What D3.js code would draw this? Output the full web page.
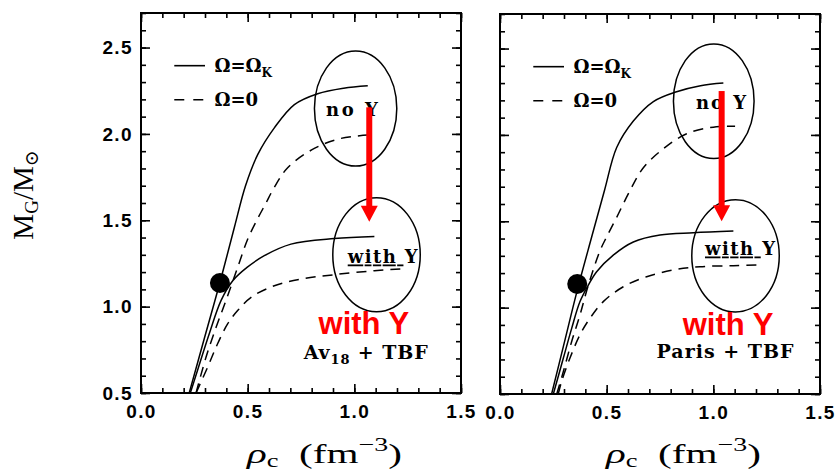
<!DOCTYPE html>
<html>
<head>
<meta charset="utf-8">
<script src="https://cdn.jsdelivr.net/npm/d3@7"></script>
<style>
  body { margin: 0; background: #fff; }
  svg { display: block; }
</style>
</head>
<body>
<svg id="chart" width="836" height="473"></svg>
<script>
// ---------- data ----------
const xDomain = [0, 1.5];
const yDomain = [0.5, 2.7];
const xTickValues = [0.0, 0.5, 1.0, 1.5];
const yTickValues = [0.5, 1.0, 1.5, 2.0, 2.5];
const legendLabels = ["\u03A9=\u03A9", "\u03A9=0"];

// Av18 + TBF : [rho_c (fm^-3), M_G / M_sun]
const av18KeplerNoY = [[0.226,0.5],[0.30,0.83],[0.37,1.14],[0.4375,1.458],[0.49,1.70],[0.547,1.88],[0.625,2.035],[0.719,2.17],[0.828,2.233],[0.95,2.265],[1.063,2.279]];
const av18StaticNoY = [[0.258,0.5],[0.305,0.708],[0.352,0.88],[0.398,1.035],[0.453,1.227],[0.50,1.39],[0.547,1.51],[0.586,1.60],[0.62,1.68],[0.6875,1.804],[0.8125,1.916],[0.9375,1.974],[1.063,1.993]];
const av18KeplerWithY = [[0.231,0.5],[0.25,0.573],[0.32,0.843],[0.375,1.035],[0.43,1.15],[0.497,1.227],[0.578,1.295],[0.703,1.362],[0.906,1.394],[1.094,1.406]];
const av18StaticWithY = [[0.258,0.5],[0.3125,0.65],[0.359,0.785],[0.406,0.90],[0.453,0.977],[0.516,1.054],[0.625,1.121],[0.75,1.16],[0.906,1.185],[1.094,1.208],[1.219,1.218]];
const av18Marker = [0.37, 1.137];

// Paris + TBF
const parisKeplerNoY = [[0.242,0.5],[0.30,0.79],[0.362,1.10],[0.43,1.41],[0.49,1.68],[0.547,1.927],[0.625,2.08],[0.719,2.193],[0.828,2.25],[0.94,2.285],[1.047,2.30]];
const parisStaticNoY = [[0.266,0.5],[0.297,0.63],[0.336,0.804],[0.375,0.958],[0.414,1.13],[0.469,1.33],[0.50,1.41],[0.547,1.523],[0.609,1.677],[0.672,1.81],[0.766,1.92],[0.875,2.007],[1.0,2.045],[1.102,2.05]];
const parisKeplerWithY = [[0.25,0.5],[0.297,0.708],[0.336,0.88],[0.375,1.035],[0.414,1.13],[0.453,1.208],[0.531,1.304],[0.625,1.38],[0.75,1.42],[0.906,1.433],[1.094,1.443]];
const parisStaticWithY = [[0.273,0.5],[0.289,0.574],[0.328,0.708],[0.375,0.843],[0.422,0.939],[0.484,1.035],[0.578,1.121],[0.6875,1.179],[0.8125,1.218],[0.9375,1.237],[1.094,1.243],[1.211,1.247]];
const parisMarker = [0.362, 1.137];

// highlighted regions: [rho centre, M centre, rho radius, M radius]
const av18Regions = [[1.006, 2.147, 0.193, 0.333], [1.104, 1.301, 0.205, 0.330]];
const parisRegions = [[1.002, 2.195, 0.189, 0.332], [1.104, 1.300, 0.205, 0.325]];
// downward arrow: [rho, M from, M to]
const av18Arrow = [1.07, 2.154, 1.492];
const parisArrow = [1.039, 2.254, 1.50];

// ---------- layout ----------
const svg = d3.select("#chart");
const panels = [
  { left: 141, top: 13, width: 320, height: 380, showY: true,
    kepler: [av18KeplerNoY, av18KeplerWithY], stat: [av18StaticNoY, av18StaticWithY],
    marker: av18Marker, regions: av18Regions, arrow: av18Arrow,
    noY: [0.867, 2.102], withY: [0.969, 1.25], redLabel: [1.045, 0.843], model: [1.053, 0.698],
    modelParts: ["Av", "18", " + TBF"], modelWidth: 124, noYWidth: 52 },
  { left: 500, top: 14, width: 320, height: 380, showY: false,
    kepler: [parisKeplerNoY, parisKeplerWithY], stat: [parisStaticNoY, parisStaticWithY],
    marker: parisMarker, regions: parisRegions, arrow: parisArrow,
    noY: [0.919, 2.15], withY: [0.961, 1.302], redLabel: [1.069, 0.843], model: [1.055, 0.708],
    modelParts: ["Paris + TBF"], modelWidth: 137, noYWidth: 50 }
];

const minorX = d3.range(0, 1.5001, 0.1).map(v => +v.toFixed(2));
const minorY = d3.range(0.5, 2.7001, 0.1).map(v => +v.toFixed(2));
const serif = "'Liberation Serif', 'DejaVu Serif', serif";
const boldSerif = "'DejaVu Serif', 'Liberation Serif', serif";
const sans = "'Liberation Sans', Arial, sans-serif";

panels.forEach((p, i) => {
  const x = d3.scaleLinear().domain(xDomain).range([p.left, p.left + p.width]);
  const y = d3.scaleLinear().domain(yDomain).range([p.top + p.height, p.top]);
  const g = svg.append("g");

  const clipId = "clip" + i;
  svg.append("clipPath").attr("id", clipId).append("rect")
    .attr("x", p.left).attr("y", p.top).attr("width", p.width).attr("height", p.height);

  // inward ticks on all four sides
  const bottom = p.top + p.height, right = p.left + p.width;
  function axisGroup(axis, tx, ty) {
    const a = g.append("g").attr("transform", `translate(${tx},${ty})`).call(axis);
    a.select(".domain").remove();
    a.selectAll("line").attr("stroke", "#000").attr("stroke-width", 1.6);
    return a;
  }
  axisGroup(d3.axisBottom(x).tickValues(minorX).tickSize(-5).tickFormat(""), 0, bottom);
  axisGroup(d3.axisTop(x).tickValues(minorX).tickSize(-5).tickFormat(""), 0, p.top);
  axisGroup(d3.axisLeft(y).tickValues(minorY).tickSize(-5).tickFormat(""), p.left, 0);
  axisGroup(d3.axisRight(y).tickValues(minorY).tickSize(-5).tickFormat(""), right, 0);

  const xb = axisGroup(d3.axisBottom(x).tickValues(xTickValues).tickSize(-9).tickPadding(12)
    .tickFormat(d3.format(".1f")), 0, bottom);
  xb.selectAll("text").attr("font-family", sans).attr("font-weight", "bold")
    .attr("font-size", 19).attr("letter-spacing", 1.4).attr("fill", "#000");
  axisGroup(d3.axisTop(x).tickValues(xTickValues).tickSize(-9).tickFormat(""), 0, p.top);
  const yl = axisGroup(d3.axisLeft(y).tickValues(yTickValues).tickSize(-9).tickPadding(8)
    .tickFormat(p.showY ? d3.format(".1f") : ""), p.left, 0);
  yl.selectAll("text").attr("font-family", sans).attr("font-weight", "bold")
    .attr("font-size", 19).attr("letter-spacing", 1.4).attr("fill", "#000");
  axisGroup(d3.axisRight(y).tickValues(yTickValues).tickSize(-9).tickFormat(""), right, 0);

  g.append("rect").attr("x", p.left).attr("y", p.top).attr("width", p.width).attr("height", p.height)
    .attr("fill", "none").attr("stroke", "#000").attr("stroke-width", 2);

  // curves
  const line = d3.line().x(d => x(d[0])).y(d => y(d[1])).curve(d3.curveCatmullRom.alpha(0.5));
  const curves = g.append("g").attr("clip-path", `url(#${clipId})`);
  p.kepler.forEach(s => curves.append("path").attr("d", line(s)).attr("fill", "none")
    .attr("stroke", "#000").attr("stroke-width", 1.5));
  p.stat.forEach(s => curves.append("path").attr("d", line(s)).attr("fill", "none")
    .attr("stroke", "#000").attr("stroke-width", 1.5).attr("stroke-dasharray", "10,7"));

  // highlighted regions
  p.regions.forEach(r => g.append("ellipse")
    .attr("cx", x(r[0])).attr("cy", y(r[1]))
    .attr("rx", x(r[0] + r[2]) - x(r[0])).attr("ry", y(r[1]) - y(r[1] + r[3]))
    .attr("fill", "none").attr("stroke", "#000").attr("stroke-width", 1.5));

  // marker
  g.append("circle").attr("cx", x(p.marker[0])).attr("cy", y(p.marker[1])).attr("r", 10).attr("fill", "#000");

  // legend
  const lg = [[0.156, 0.30, 2.395], [0.156, 0.30, 2.198]];
  lg.forEach((l, k) => {
    g.append("line").attr("x1", x(l[0])).attr("x2", x(l[1])).attr("y1", y(l[2])).attr("y2", y(l[2]))
      .attr("stroke", "#000").attr("stroke-width", 1.6)
      .attr("stroke-dasharray", k === 1 ? "10,9" : null);
    const t = g.append("text").attr("x", x(0.344)).attr("y", y(l[2]) + 6.5)
      .attr("font-family", boldSerif).attr("font-weight", "bold").attr("font-size", 18).attr("fill", "#000");
    t.append("tspan").text(legendLabels[k]);
    if (k === 0) t.append("tspan").attr("dy", 5).attr("font-size", 12).text("K");
  });

  // annotations
  g.append("text").attr("x", x(p.noY[0])).attr("y", y(p.noY[1]))
    .attr("font-family", boldSerif).attr("font-weight", "bold").attr("font-size", 18)
    .attr("textLength", p.noYWidth).attr("lengthAdjust", "spacing").text("no Y");
  const wy = g.append("text").attr("x", x(p.withY[0])).attr("y", y(p.withY[1]))
    .attr("font-family", boldSerif).attr("font-weight", "bold").attr("font-size", 18)
    .attr("textLength", 70).attr("lengthAdjust", "spacing");
  wy.append("tspan").attr("text-decoration", "underline").text("with ");
  wy.append("tspan").text("Y");

  const mt = g.append("text").attr("x", x(p.model[0])).attr("y", y(p.model[1]))
    .attr("text-anchor", "middle").attr("font-family", boldSerif).attr("font-weight", "bold")
    .attr("font-size", 19).attr("textLength", p.modelWidth).attr("lengthAdjust", "spacing");
  if (p.modelParts.length === 3) {
    mt.append("tspan").text(p.modelParts[0]);
    mt.append("tspan").attr("dy", 5).attr("font-size", 13).text(p.modelParts[1]);
    mt.append("tspan").attr("dy", -5).text(p.modelParts[2]);
  } else {
    mt.text(p.modelParts[0]);
  }

  g.append("text").attr("x", x(p.redLabel[0])).attr("y", y(p.redLabel[1]))
    .attr("text-anchor", "middle").attr("font-family", sans).attr("font-weight", "bold")
    .attr("font-size", 31).attr("fill", "#ff0000").text("with Y");

  // arrow
  const ax = x(p.arrow[0]), ay0 = y(p.arrow[1]), ay1 = y(p.arrow[2]);
  g.append("line").attr("x1", ax).attr("x2", ax).attr("y1", ay0).attr("y2", ay1 - 14)
    .attr("stroke", "#ff0000").attr("stroke-width", 6);
  g.append("path").attr("d", `M${ax - 8.5},${ay1 - 16}L${ax + 8.5},${ay1 - 16}L${ax},${ay1}Z`)
    .attr("fill", "#ff0000");

  // x-axis title
  const xt = svg.append("text").attr("x", x(0) + 106).attr("y", 463)
    .attr("font-family", serif).attr("font-size", 28).attr("fill", "#000")
    .attr("textLength", 155).attr("lengthAdjust", "spacingAndGlyphs");
  xt.append("tspan").attr("font-style", "italic").text("\u03C1");
  xt.append("tspan").attr("dy", 4).attr("font-size", 18).text("c");
  xt.append("tspan").attr("dy", -4).text("\u2002(fm");
  xt.append("tspan").attr("dy", -12).attr("font-size", 19).text("\u22123");
  xt.append("tspan").attr("dy", 12).text(")");
});

// y-axis title
const yt = svg.append("text").attr("transform", "translate(33,195) rotate(-90)")
  .attr("text-anchor", "middle").attr("font-family", serif).attr("font-size", 29).attr("fill", "#000");
yt.append("tspan").text("M");
yt.append("tspan").attr("dy", 5).attr("font-size", 19).text("G");
yt.append("tspan").attr("dy", -5).text("/M");
yt.append("tspan").attr("dy", 5).attr("font-size", 19).text("\u2299");
</script>
</body>
</html>
